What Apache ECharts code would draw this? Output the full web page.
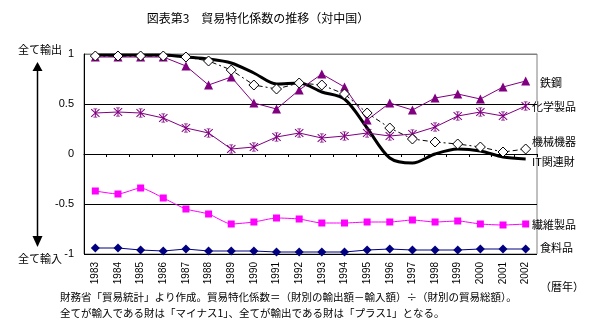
<!DOCTYPE html>
<html><head><meta charset="utf-8">
<script src="https://cdn.jsdelivr.net/npm/echarts@6/dist/echarts.min.js"></script>
<style>html,body{margin:0;padding:0;background:#fff}#c{width:600px;height:330px}</style>
</head><body><div id="c"></div>
<script>
const years = ['1983','1984','1985','1986','1987','1988','1989','1990','1991','1992','1993','1994','1995','1996','1997','1998','1999','2000','2001','2002'];
const yTicks = [-1,-0.5,0,0.5,1];
const tekko   = [0.97,0.97,0.97,0.97,0.88,0.69,0.77,0.51,0.45,0.64,0.80,0.67,0.34,0.51,0.44,0.56,0.60,0.55,0.67,0.73];
const kagaku  = [0.41,0.42,0.41,0.36,0.26,0.21,0.05,0.07,0.17,0.21,0.16,0.18,0.21,0.18,0.20,0.27,0.38,0.42,0.38,0.48];
const kikai   = [0.98,0.98,0.98,0.98,0.97,0.93,0.84,0.69,0.65,0.71,0.69,0.60,0.41,0.26,0.15,0.12,0.10,0.07,0.02,0.05];
const itkanren= [0.99,0.99,0.99,0.99,0.97,0.95,0.91,0.81,0.70,0.71,0.62,0.55,0.26,-0.04,-0.09,0.00,0.05,0.03,-0.03,-0.05];
const seni    = [-0.37,-0.40,-0.34,-0.44,-0.55,-0.60,-0.70,-0.68,-0.64,-0.65,-0.69,-0.69,-0.68,-0.68,-0.66,-0.68,-0.67,-0.70,-0.71,-0.70];
const shokuryo= [-0.94,-0.94,-0.96,-0.97,-0.95,-0.97,-0.97,-0.97,-0.98,-0.98,-0.98,-0.98,-0.96,-0.95,-0.96,-0.96,-0.96,-0.95,-0.95,-0.95];
const seriesNames = ['鉄鋼','化学製品','機械機器','IT関連財','繊維製品','食料品'];

const JP = '"Noto Sans CJK JP", sans-serif';
const NUM = '"Liberation Sans", Arial, sans-serif';
const star = 'path://M1 0.3 L9.7 9 L9 9.7 L0.3 1 Z M9 0.3 L9.7 1 L1 9.7 L0.3 9 Z M4.5 0 L5.5 0 L5.5 10 L4.5 10 Z M3 0 L7 0 L7 0.8 L3 0.8 Z M3 9.2 L7 9.2 L7 10 L3 10 Z';

const chart = echarts.init(document.getElementById('c'), null, {renderer:'canvas'});
function txt(x,y,t,size,align){return {type:'text',left:undefined,x:x,y:y,style:{text:t,font:size+'px '+JP,fill:'#000',textAlign:align||'left',textVerticalAlign:'middle'}};}
chart.setOption({
  animation:false,
  backgroundColor:'#fff',
  grid:{left:84,right:63,top:54,bottom:76,show:true,borderColor:'#808080',borderWidth:1,backgroundColor:'transparent'},
  xAxis:{type:'category',data:years,boundaryGap:true,
    axisLine:{lineStyle:{color:'#000',width:1}},
    axisTick:{show:true,interval:0,length:3,lineStyle:{color:'#000'}},
    axisLabel:{interval:0,rotate:90,margin:8,color:'#000',fontSize:10,fontFamily:NUM},
    splitLine:{show:false}},
  yAxis:{type:'value',min:yTicks[0],max:yTicks[yTicks.length-1],interval:0.5,
    axisLine:{show:true,lineStyle:{color:'#000',width:1}},
    axisTick:{show:false},
    axisLabel:{margin:10,color:'#000',fontSize:11,fontFamily:NUM},
    splitLine:{show:true,lineStyle:{color:['#000','#000','#000','#000','#808080'],width:1}}},
  series:[
    {name:seriesNames[3],type:'line',data:itkanren,smooth:0.3,symbol:'none',lineStyle:{color:'#000',width:3},z:2},
    {name:seriesNames[0],type:'line',data:tekko,symbol:'triangle',symbolSize:9,itemStyle:{color:'#800080'},lineStyle:{color:'#800080',width:1},z:3},
    {name:seriesNames[1],type:'line',data:kagaku,symbol:star,symbolSize:9,itemStyle:{color:'#800080'},lineStyle:{color:'#800080',width:1},z:3},
    {name:seriesNames[4],type:'line',data:seni,smooth:0.2,symbol:'rect',symbolSize:7,itemStyle:{color:'#FF00FF'},lineStyle:{color:'#FF00FF',width:1},z:3},
    {name:seriesNames[5],type:'line',data:shokuryo,symbol:'diamond',symbolSize:9,itemStyle:{color:'#000080'},lineStyle:{color:'#000080',width:1},z:3},
    {name:seriesNames[2],type:'line',data:kikai,symbol:'diamond',symbolSize:10,itemStyle:{color:'#fff',borderColor:'#000',borderWidth:1},lineStyle:{color:'#000',width:1,type:[5,3,2,3]},z:4}
  ],
  graphic:[
    {type:'text',x:258,y:18,style:{text:'図表第3　貿易特化係数の推移（対中国）',font:'12px '+JP,fill:'#000',textAlign:'center',textVerticalAlign:'middle'}},
    {type:'text',x:40,y:50,style:{text:'全て輸出',font:'11px '+JP,fill:'#000',textAlign:'center',textVerticalAlign:'middle'}},
    {type:'text',x:40,y:259,style:{text:'全て輸入',font:'11px '+JP,fill:'#000',textAlign:'center',textVerticalAlign:'middle'}},
    {type:'line',shape:{x1:37.5,y1:68,x2:37.5,y2:238},style:{stroke:'#000',lineWidth:1.5}},
    {type:'polygon',shape:{points:[[37.5,62],[32.5,71],[42.5,71]]},style:{fill:'#000'}},
    {type:'polygon',shape:{points:[[37.5,247],[32.5,236],[42.5,236]]},style:{fill:'#000'}},
    {type:'text',x:540,y:83,style:{text:seriesNames[0],font:'11px '+JP,fill:'#000',textVerticalAlign:'middle'}},
    {type:'text',x:532,y:107,style:{text:seriesNames[1],font:'11px '+JP,fill:'#000',textVerticalAlign:'middle',backgroundColor:'#fff'}},
    {type:'text',x:532,y:142,style:{text:seriesNames[2],font:'11px '+JP,fill:'#000',textVerticalAlign:'middle'}},
    {type:'text',x:532,y:162,style:{text:seriesNames[3],font:'11px '+JP,fill:'#000',textVerticalAlign:'middle'}},
    {type:'text',x:532,y:225,style:{text:seriesNames[4],font:'11px '+JP,fill:'#000',textVerticalAlign:'middle'}},
    {type:'text',x:540,y:248,style:{text:seriesNames[5],font:'11px '+JP,fill:'#000',textVerticalAlign:'middle'}},
    {type:'text',x:540,y:287,style:{text:'（暦年）',font:'11px '+JP,fill:'#000',textVerticalAlign:'middle'}},
    {type:'text',x:60,y:297,style:{text:'財務省「貿易統計」より作成。貿易特化係数＝（財別の輸出額－輸入額）÷（財別の貿易総額）。',font:'10.5px '+JP,fill:'#000',textVerticalAlign:'middle'}},
    {type:'text',x:60,y:313,style:{text:'全てが輸入である財は「マイナス1」、全てが輸出である財は「プラス1」となる。',font:'10.5px '+JP,fill:'#000',textVerticalAlign:'middle'}}
  ]
});
</script></body></html>
